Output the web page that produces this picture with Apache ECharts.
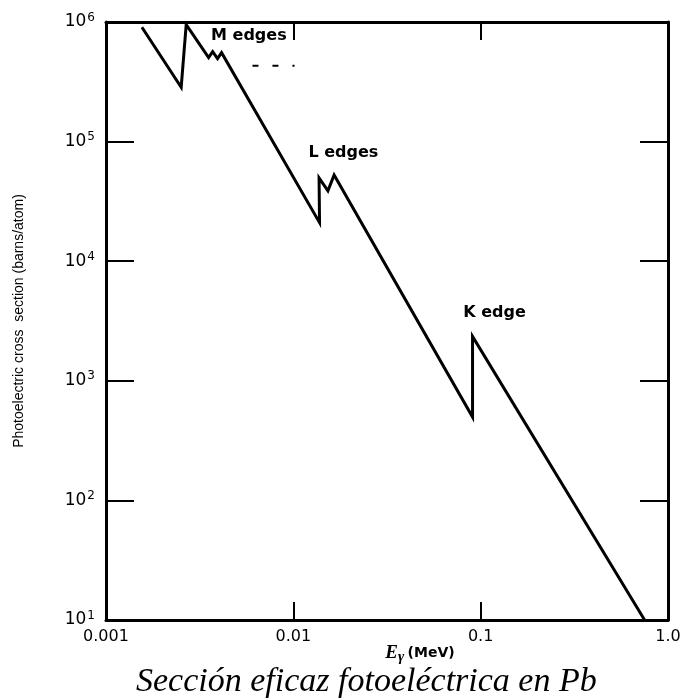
<!DOCTYPE html>
<html>
<head>
<meta charset="utf-8">
<title>Sección eficaz fotoeléctrica en Pb</title>
<script src="https://cdn.jsdelivr.net/npm/echarts@6/dist/echarts.min.js"></script>
<style>
  html, body { margin: 0; padding: 0; background: #fff; }
  #main { width: 699px; height: 700px; }
</style>
</head>
<body>
<div id="main"></div>
<script>
// photon energy (MeV) and cross section (barns/atom)
const energy = [0.001555, 0.00252, 0.00268, 0.00353, 0.00371, 0.00394, 0.00414,
  0.0138, 0.01372, 0.0153, 0.01651, 0.0905, 0.0905, 0.750]
const sigma = [9.04e5, 2.85e5, 9.5e5, 5.04e5, 5.66e5, 4.94e5, 5.54e5,
  2.10e4, 4.97e4, 3.87e4, 5.26e4, 497, 2350, 10]

// short dashed stroke near the M edges
const dashEnergy = [0.00605, 0.01015]
const dashSigma = [4.3e5, 4.3e5]

// edge annotations
const edgeNames = ['M edges', 'L edges', 'K edge']
const edgeEnergy = [0.00579, 0.0185, 0.1185]
const edgeSigma = [7.66e5, 8.0e4, 3715]

// tick labels
const xTickLabels = ['0.001', '0.01', '0.1', '1.0']
const yExponents = [1, 2, 3, 4, 5, 6]

const tickFont = 'DejaVu Sans'

const chart = echarts.init(document.getElementById('main'))

const baseX = {
  type: 'log',
  logBase: 10,
  min: 0.001,
  max: 1,
  splitLine: { show: false },
  axisLine: { lineStyle: { color: '#000', width: 3 } },
  axisTick: { inside: true, length: 18, lineStyle: { color: '#000', width: 2 } },
  minorTick: { show: false }
}
const baseY = {
  type: 'log',
  logBase: 10,
  min: Math.pow(10, yExponents[0]),
  max: Math.pow(10, yExponents[yExponents.length - 1]),
  splitLine: { show: false },
  axisLine: { onZero: false, lineStyle: { color: '#000', width: 3 } },
  axisTick: { inside: true, length: 28, lineStyle: { color: '#000', width: 2 } }
}

chart.setOption({
  animation: false,
  backgroundColor: '#fff',
  title: {
    text: 'Sección eficaz fotoeléctrica en Pb',
    left: 131,
    top: 660,
    textStyle: {
      fontFamily: 'Liberation Serif',
      fontStyle: 'italic',
      fontWeight: 'normal',
      fontSize: 34,
      color: '#000'
    }
  },
  grid: { left: 106, right: 31, top: 22, bottom: 80 },
  xAxis: [
    Object.assign({}, baseX, {
      position: 'bottom',
      name: '{e|E}{g|γ} {m|(MeV)}',
      nameLocation: 'middle',
      nameGap: 21,
      nameMoveOverlap: false,
      nameTextStyle: {
        padding: [0, 0, 0, 66],
        rich: {
          e: { fontFamily: 'Liberation Serif', fontStyle: 'italic', fontWeight: 'bold', fontSize: 19, color: '#000' },
          g: { fontFamily: 'Liberation Serif', fontStyle: 'italic', fontWeight: 'bold', fontSize: 15, color: '#000', padding: [9, 0, 0, 0] },
          m: { fontFamily: tickFont, fontWeight: 'bold', fontSize: 14, color: '#000' }
        }
      },
      axisLabel: {
        margin: 9,
        fontFamily: tickFont,
        fontSize: 16,
        color: '#000',
        formatter: function (v) {
          return xTickLabels[Math.round(Math.log10(v)) + 3]
        }
      }
    }),
    Object.assign({}, baseX, { position: 'top', axisLabel: { show: false } })
  ],
  yAxis: [
    Object.assign({}, baseY, {
      position: 'left',
      name: 'Photoelectric cross  section (barns/atom)',
      nameLocation: 'middle',
      nameGap: 80,
      nameTextStyle: {
        fontFamily: 'Liberation Sans',
        fontSize: 14,
        color: '#000'
      },
      axisLabel: {
        margin: 11,
        color: '#000',
        formatter: function (v) {
          return '{b|10}{s|' + Math.round(Math.log10(v)) + '}'
        },
        rich: {
          b: { fontFamily: tickFont, fontSize: 17, color: '#000' },
          s: { fontFamily: tickFont, fontSize: 12, color: '#000', padding: [0, 0, 9, 1] }
        }
      }
    }),
    Object.assign({}, baseY, { position: 'right', axisLabel: { show: false } })
  ],
  series: [
    {
      type: 'line',
      data: energy.map((e, i) => [e, sigma[i]]),
      showSymbol: false,
      symbol: 'none',
      lineStyle: { color: '#000', width: 3, join: 'miter' },
      z: 3
    },
    {
      type: 'line',
      data: dashEnergy.map((e, i) => [e, dashSigma[i]]),
      symbol: 'none',
      lineStyle: { color: '#000', width: 2, type: [6, 14] }
    },
    {
      type: 'scatter',
      data: edgeEnergy.map((e, i) => ({ value: [e, edgeSigma[i]], name: edgeNames[i] })),
      symbolSize: 0,
      itemStyle: { opacity: 1 },
      label: {
        show: true,
        position: 'inside',
        formatter: '{b}',
        fontFamily: tickFont,
        fontSize: 16,
        fontWeight: 'bold',
        color: '#000'
      }
    }
  ]
})

window.addEventListener('resize', function () {
  chart.resize()
})
</script>
</body>
</html>
